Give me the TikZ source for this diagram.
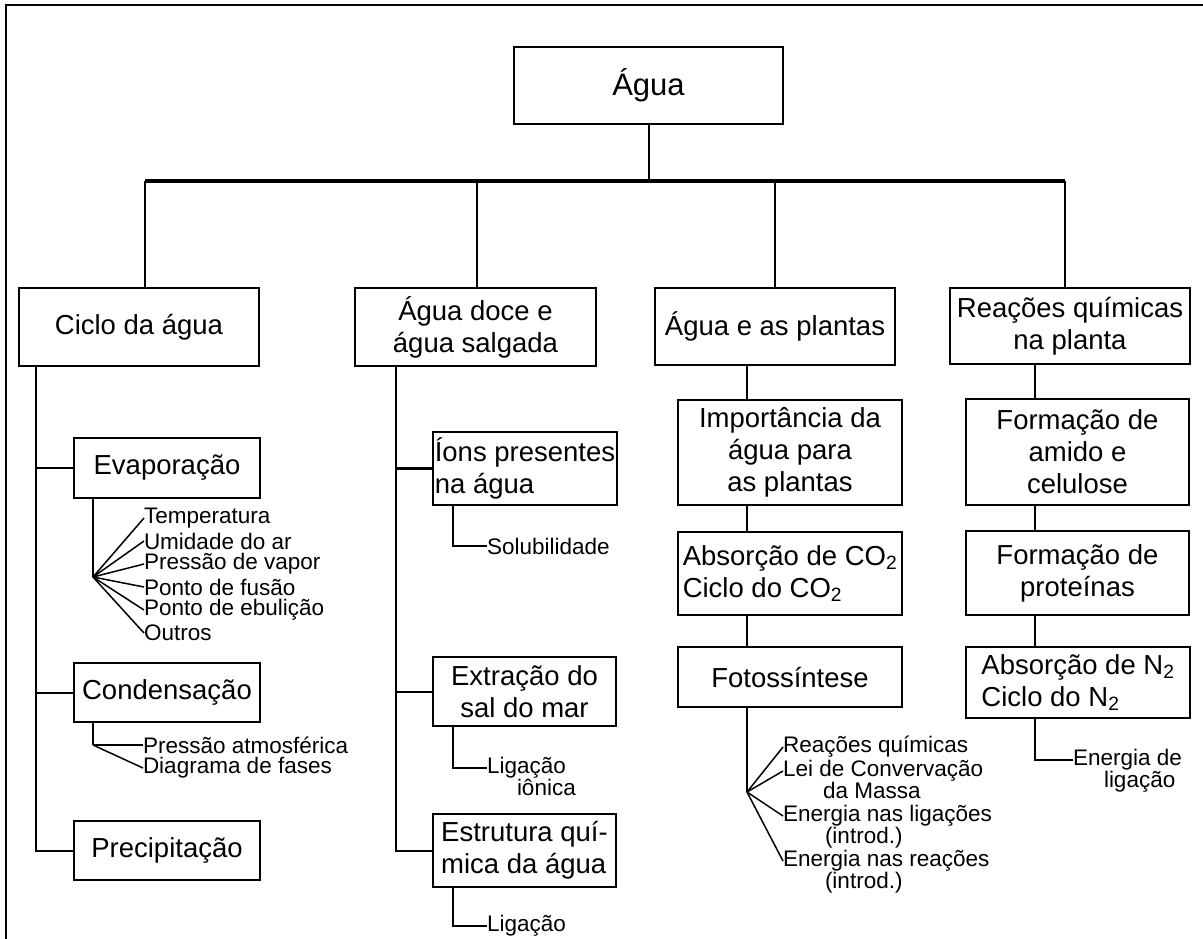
\documentclass[tikz,border=0pt]{standalone}
\usepackage{fontspec}
\setmainfont{Liberation Sans}
\begin{document}
\begin{tikzpicture}[x=1pt,y=-1pt,
  every node/.style={inner sep=0pt, outer sep=0pt},
  box/.style={draw, line width=2.2pt, align=center, font=\fontsize{27.5}{32}\selectfont},
  lbl/.style={font=\fontsize{22.5}{22.5}\selectfont, inner sep=0pt, anchor=west, align=left},
  ln/.style={line width=2pt},
  thinl/.style={line width=1.5pt},
  bar/.style={line width=3.8pt}]
\clip (0,0) rectangle (1203,938);
% frame
\draw[line width=2.2pt] (6,960) -- (6,5) -- (1220,5);

% root
\node[box, minimum width=269, minimum height=77, font=\fontsize{31}{36}\selectfont] (agua) at (648.5,85.5) {Água};
\coordinate (hub) at (648.5,181);
\coordinate (bL) at (145,181);
\coordinate (b2) at (477,181);
\coordinate (b3) at (775,181);
\coordinate (bR) at (1065,181);

% level 1
\node[box, minimum width=240, minimum height=78] (ciclo) at (139,327) {Ciclo da água};
\node[box, minimum width=241, minimum height=78] (doce) at (475.5,327) {Água doce e\\água salgada};
\node[box, minimum width=240, minimum height=77] (plantas) at (775,326.5) {Água e as plantas};
\node[box, minimum width=240, minimum height=76] (reac) at (1070,326) {Reações químicas\\na planta};

\draw[ln] (agua.south) -- (hub);
\draw[bar] (bL) -- (bR);
\draw[ln] (bL) -- (ciclo.north -| bL);
\draw[ln] (b2) -- (doce.north -| b2);
\draw[ln] (b3) -- (plantas.north -| b3);
\draw[ln] (bR) -- (reac.north -| bR);

% column 1
\coordinate (v1) at (36,366);
\node[box, minimum width=186, minimum height=60] (evap) at (167,468) {Evaporação};
\node[box, minimum width=186, minimum height=59] (cond) at (167,692.5) {Condensação};
\node[box, minimum width=186, minimum height=59] (prec) at (167,850.5) {Precipitação};
\draw[ln] (ciclo.south -| v1) |- (prec.west);
\draw[line width=2.8pt] (evap.west) -- (evap.west -| v1);
\draw[ln] (cond.west) -- (cond.west -| v1);

\coordinate (f1) at (93,577);
\draw[ln] (evap.south -| f1) -- (f1);
\node[lbl] (t1) at (144,518) {Temperatura};
\node[lbl] (t2) at (144,541) {Umidade do ar};
\node[lbl] (t3) at (144,564) {Pressão de vapor};
\node[lbl] (t4) at (144,587) {Ponto de fusão};
\node[lbl] (t5) at (144,610) {Ponto de ebulição};
\node[lbl] (t6) at (144,633) {Outros};
\foreach \t in {t1,t2,t3,t4,t5,t6} \draw[thinl] (f1) -- (\t.west);

\coordinate (f2) at (93,745);
\draw[ln] (cond.south -| f2) -- (f2);
\node[lbl] (p1) at (143,745) {Pressão atmosférica};
\node[lbl] (p2) at (143,768) {Diagrama de fases};
\draw[thinl] (f2) -- (p1.west);
\draw[thinl] (f2) -- (p2.west);

% column 2
\coordinate (v2) at (396,366);
\node[box, minimum width=184, minimum height=73, align=left] (ions) at (525,468.5) {Íons presentes\\na água};
\node[box, minimum width=183, minimum height=69] (extr) at (524.5,691.5) {Extração do\\sal do mar};
\node[box, minimum width=183, minimum height=73, align=left] (estr) at (524.5,850.5) {Estrutura quí-\\mica da água};
\draw[ln] (doce.south -| v2) |- (estr.west);
\draw[line width=2.8pt] (ions.west) -- (ions.west -| v2);
\draw[ln] (extr.west) -- (extr.west -| v2);

\coordinate (k2) at (453,546);
\node[lbl] (solub) at (487,546) {Solubilidade};
\draw[ln] (ions.south -| k2) |- (solub.west);
\node[lbl, anchor=north west] (lig1) at (487,757) {Ligação\\\hspace*{30pt}iônica};
\draw[ln] (extr.south -| k2) |- ([yshift=-11pt]lig1.north west);
\node[lbl] (lig2) at (487,926) {Ligação};
\draw[ln] (estr.south -| k2) |- (lig2.west);

% column 3
\coordinate (f3) at (747,792);
\node[box, minimum width=224, minimum height=105] (imp) at (790,452.5) {Importância da\\água para\\as plantas};
\node[box, minimum width=224, minimum height=83, align=left] (co2) at (790,573.5) {Absorção de CO\textsubscript{2}\\Ciclo do CO\textsubscript{2}};
\node[box, minimum width=224, minimum height=60] (foto) at (790,677) {Fotossíntese};
\draw[ln] (plantas.south -| f3) -- (imp.north -| f3);
\draw[ln] (imp.south -| f3) -- (co2.north -| f3);
\draw[ln] (co2.south -| f3) -- (foto.north -| f3);
\draw[ln] (foto.south -| f3) -- (f3);

\node[lbl] (r1) at (783,747) {Reações químicas};
\node[lbl, anchor=north west] (r2) at (783,760) {Lei de Convervação\\\hspace*{40pt}da Massa};
\node[lbl, anchor=north west] (r3) at (783,805) {Energia nas ligações\\\hspace*{42pt}(introd.)};
\node[lbl, anchor=north west] (r4) at (783,850) {Energia nas reações\\\hspace*{42pt}(introd.)};
\draw[thinl] (f3) -- (r1.west);
\draw[thinl] (f3) -- ([yshift=-11pt]r2.north west);
\draw[thinl] (f3) -- ([yshift=-11pt]r3.north west);
\draw[thinl] (f3) -- ([yshift=-11pt]r4.north west);

% column 4
\coordinate (f4) at (1035,760);
\node[box, minimum width=223, minimum height=106] (formA) at (1077.5,452) {Formação de\\amido e\\celulose};
\node[box, minimum width=223, minimum height=84] (formP) at (1077.5,573) {Formação de\\proteínas};
\node[box, minimum width=224, minimum height=71, align=left] (n2) at (1078,682.5) {Absorção de N\textsubscript{2}\\Ciclo do N\textsubscript{2}};
\draw[ln] (reac.south -| f4) -- (formA.north -| f4);
\draw[ln] (formA.south -| f4) -- (formP.north -| f4);
\draw[ln] (formP.south -| f4) -- (n2.north -| f4);
\node[lbl, anchor=north west] (en) at (1073,749) {Energia de\\\hspace*{31pt}ligação};
\draw[ln] (n2.south -| f4) |- ([yshift=-11pt]en.north west);
\end{tikzpicture}
\end{document}
